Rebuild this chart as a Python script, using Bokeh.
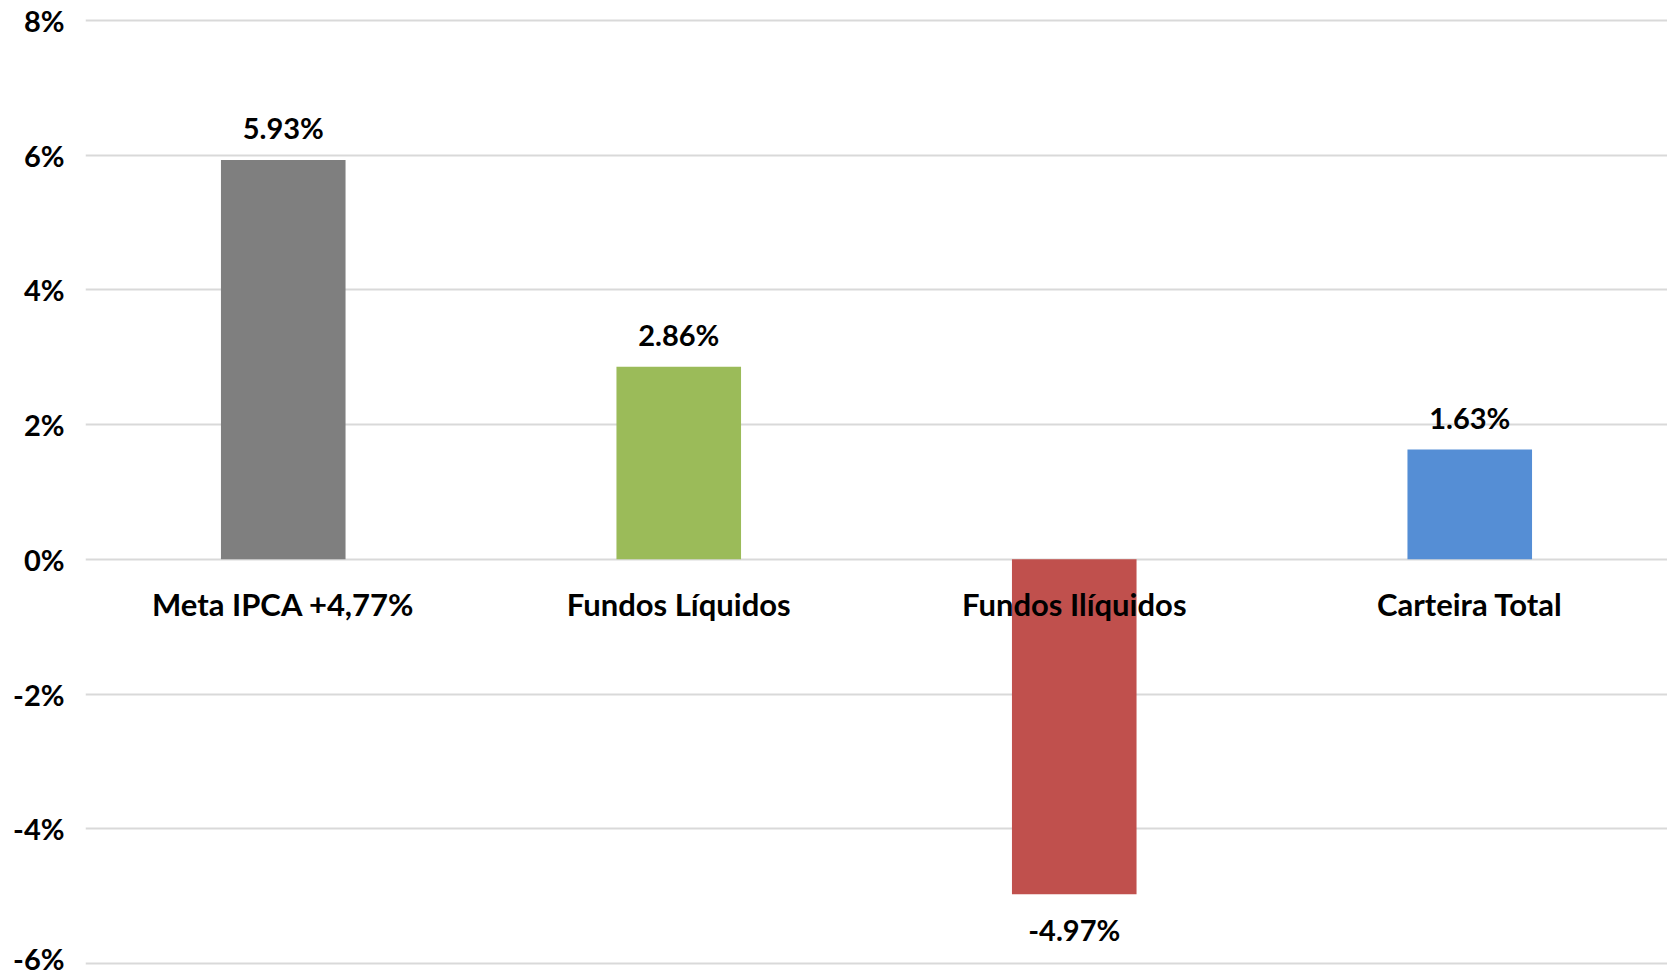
from bokeh.plotting import figure
from bokeh.models import ColumnDataSource, Range1d, FixedTicker, PrintfTickFormatter
from bokeh.core.properties import value
from bokeh.embed import file_html
from bokeh.resources import INLINE

categories = ["Meta IPCA +4,77%", "Fundos Líquidos", "Fundos Ilíquidos", "Carteira Total"]
values = [5.93, 2.86, -4.97, 1.63]
value_labels = ["5.93%", "2.86%", "-4.97%", "1.63%"]
colors = ["#7F7F7F", "#9BBB59", "#C0504D", "#558ED5"]
y_ticks = [-6, -4, -2, 0, 2, 4, 6, 8]

FONT = "Lato"
FS_NUM = "29px"
FS_CAT = "31px"

src = ColumnDataSource(dict(
    cat=categories, val=values, lab=value_labels, col=colors,
    zero=[0] * len(categories),
    off=[-32 if v >= 0 else 35 for v in values],
))

p = figure(x_range=categories, y_range=Range1d(-6.178, 8.297), x_axis_location=None, title=None,
           width=1667, height=975, output_backend="svg", toolbar_location=None,
           min_border_left=85, min_border_right=0, min_border_top=0, min_border_bottom=0)
p.outline_line_color = None
p.background_fill_color = "white"
p.border_fill_color = "white"

p.xgrid.grid_line_color = None
p.ygrid.ticker = FixedTicker(ticks=y_ticks)
p.ygrid.grid_line_color = "#D9D9D9"
p.ygrid.grid_line_width = 2

ax = p.yaxis[0]
ax.ticker = FixedTicker(ticks=y_ticks)
ax.formatter = PrintfTickFormatter(format="%d%%")
ax.axis_line_color = None
ax.major_tick_line_color = None
ax.minor_tick_line_color = None
ax.major_label_text_font = FONT
ax.major_label_text_font_style = "bold"
ax.major_label_text_font_size = FS_NUM
ax.major_label_text_color = "black"
ax.major_label_standoff = 15

p.vbar(x="cat", top="val", bottom=0, width=0.315, fill_color="col", line_color=None, source=src)

p.text(x="cat", y="zero", text="cat", source=src, y_offset=45,
       text_align="center", text_baseline="middle",
       text_font=value(FONT), text_font_style="bold", text_font_size=FS_CAT, text_color="black")

p.text(x="cat", y="val", text="lab", source=src, y_offset="off",
       text_align="center", text_baseline="middle",
       text_font=value(FONT), text_font_style="bold", text_font_size=FS_NUM, text_color="black")

open("out.html", "w").write(file_html(p, INLINE))
